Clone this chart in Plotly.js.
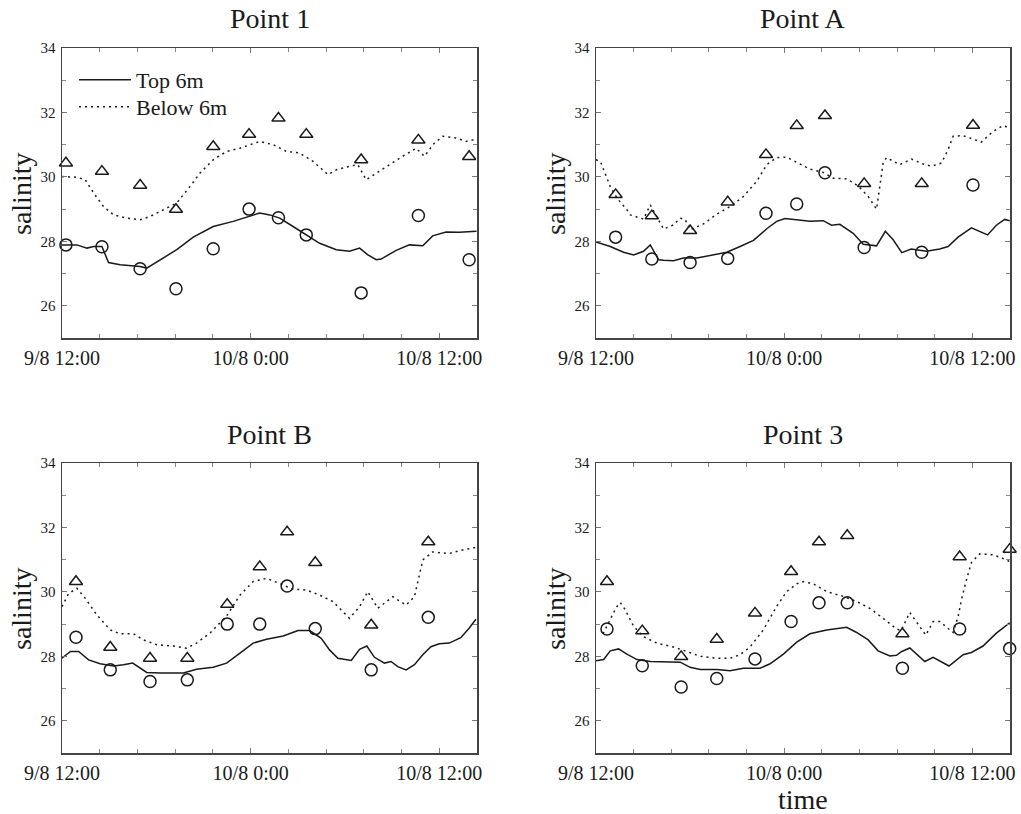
<!DOCTYPE html>
<html>
<head>
<meta charset="utf-8">
<script src="https://cdn.plot.ly/plotly-3.0.1.min.js"></script>
<style>html,body{margin:0;padding:0;background:#fff;}#chart{width:1021px;height:814px;}</style>
</head>
<body>
<div id="chart"></div>
<script>
// time axis: hours after 9/8 12:00
const tickHours = [0, 12, 24];
const tickLabels = ["9/8 12:00", "10/8 0:00", "10/8 12:00"];
const panelTitles = ["Point 1", "Point A", "Point B", "Point 3"];
const seriesNames = ["Top 6m", "Below 6m"];

// ---- Point 1 ----
const p1ObsT = [0.25, 2.54, 4.97, 7.25, 9.62, 11.9, 13.77, 15.54, 19.03, 22.67, 25.9];
const p1ObsTop = [27.89, 27.83, 27.15, 26.53, 27.77, 29.0, 28.73, 28.2, 26.4, 28.8, 27.43];
const p1ObsBelow = [30.43, 30.17, 29.74, 28.99, 30.94, 31.32, 31.82, 31.32, 30.53, 31.14, 30.63];
const p1TopT = [0, 0.95, 1.59, 2.01, 2.54, 2.96, 3.70, 4.97, 5.39, 6.24, 7.30, 8.35, 9.62, 10.89, 12.16, 12.58, 13.22, 13.85, 14.70, 15.54, 16.39, 17.45, 18.29, 18.93, 19.46, 19.99, 20.30, 21.26, 22.10, 22.95, 23.58, 24.43, 25.27, 26.37];
const p1Top = [27.89, 27.89, 27.79, 27.84, 27.84, 27.34, 27.27, 27.22, 27.17, 27.43, 27.74, 28.13, 28.46, 28.62, 28.82, 28.88, 28.82, 28.72, 28.46, 28.20, 27.94, 27.74, 27.69, 27.79, 27.58, 27.43, 27.45, 27.72, 27.89, 27.86, 28.17, 28.29, 28.28, 28.31];
const p1BelowT = [0, 0.95, 1.48, 2.01, 2.64, 3.28, 4.12, 4.97, 5.60, 6.45, 7.30, 8.14, 8.78, 9.62, 10.47, 11.32, 12.16, 12.58, 13.43, 14.28, 15.12, 15.97, 16.92, 17.45, 18.29, 18.82, 19.35, 19.99, 20.83, 21.68, 22.53, 23.05, 23.69, 24.22, 25.06, 25.70, 26.37];
const p1Below = [30.01, 29.99, 29.91, 29.5, 29.08, 28.82, 28.72, 28.67, 28.77, 28.98, 29.19, 29.7, 30.12, 30.53, 30.79, 30.89, 31.03, 31.1, 31.0, 30.79, 30.74, 30.48, 30.07, 30.22, 30.33, 30.38, 29.91, 30.12, 30.38, 30.64, 30.89, 30.64, 31.05, 31.26, 31.21, 31.1, 31.17];

// ---- Point A ----
const pAObsT = [1.25, 3.56, 6.0, 8.40, 10.84, 12.80, 14.60, 17.10, 20.77, 24.04];
const pAObsTop = [28.13, 27.45, 27.34, 27.47, 28.87, 29.16, 30.13, 27.81, 27.66, 29.75];
const pAObsBelow = [29.45, 28.79, 28.33, 29.22, 30.69, 31.59, 31.90, 29.79, 29.79, 31.6];
const pATopT = [0, 0.91, 1.76, 2.40, 3.03, 3.46, 3.99, 4.31, 4.94, 5.58, 6.43, 7.28, 8.34, 9.19, 10.04, 10.89, 11.52, 12.05, 13.01, 13.64, 14.49, 15.02, 15.55, 16.40, 17.04, 17.89, 18.45, 18.95, 19.50, 20.10, 21.07, 21.92, 22.45, 23.09, 23.94, 24.97, 25.53, 26.06, 26.38];
const pATop = [27.98, 27.84, 27.66, 27.58, 27.69, 27.89, 27.43, 27.41, 27.40, 27.48, 27.48, 27.55, 27.66, 27.84, 28.03, 28.39, 28.62, 28.71, 28.65, 28.62, 28.64, 28.50, 28.53, 28.25, 27.91, 27.86, 28.31, 28.05, 27.65, 27.76, 27.69, 27.76, 27.84, 28.13, 28.42, 28.20, 28.50, 28.68, 28.64];
const pABelowT = [0, 0.28, 0.91, 1.34, 1.97, 2.19, 3.03, 3.46, 4.31, 4.94, 5.37, 5.69, 6.0, 6.85, 7.70, 8.55, 9.40, 10.25, 10.89, 11.52, 12.16, 13.01, 13.64, 14.49, 15.13, 15.98, 16.72, 17.36, 17.89, 18.31, 18.52, 19.37, 20.12, 20.86, 21.39, 22.03, 22.45, 22.77, 23.41, 24.04, 24.57, 25.32, 25.95, 26.38];
const pABelow = [30.53, 30.48, 29.70, 29.34, 28.98, 28.82, 28.69, 29.13, 28.38, 28.51, 28.72, 28.67, 28.36, 28.54, 28.84, 29.08, 29.39, 29.86, 30.38, 30.60, 30.61, 30.40, 30.24, 30.14, 29.96, 29.94, 29.72, 29.39, 29.0, 30.43, 30.60, 30.38, 30.55, 30.40, 30.33, 30.43, 30.84, 31.26, 31.28, 31.17, 31.08, 31.41, 31.59, 31.52];

// ---- Point B ----
const pBObsT = [0.89, 3.07, 5.60, 7.97, 10.51, 12.58, 14.32, 16.11, 19.67, 23.30];
const pBObsTop = [28.59, 27.58, 27.22, 27.27, 29.0, 29.0, 30.18, 28.86, 27.58, 29.21];
const pBObsBelow = [30.32, 28.28, 27.94, 27.94, 29.61, 30.78, 31.86, 30.91, 28.97, 31.55];
const pBTopT = [0, 0.53, 1.06, 1.69, 2.43, 3.28, 3.91, 4.50, 5.39, 6.24, 7.72, 8.56, 9.62, 10.47, 11.32, 12.16, 13.01, 14.07, 15.02, 15.75, 16.49, 17.02, 17.55, 18.40, 18.93, 19.39, 19.88, 20.51, 20.93, 21.36, 21.89, 22.42, 22.95, 23.47, 24.0, 24.63, 25.37, 25.90, 26.33];
const pBTop = [27.94, 28.15, 28.15, 27.89, 27.77, 27.70, 27.74, 27.79, 27.50, 27.48, 27.48, 27.60, 27.66, 27.79, 28.10, 28.41, 28.53, 28.63, 28.80, 28.80, 28.56, 28.20, 27.94, 27.87, 28.22, 28.32, 27.97, 27.79, 27.84, 27.68, 27.58, 27.74, 28.05, 28.30, 28.39, 28.41, 28.58, 28.87, 29.15];
const pBBelowT = [0, 0.42, 0.95, 1.48, 2.22, 3.07, 3.70, 4.55, 5.18, 6.03, 7.08, 7.93, 8.56, 9.41, 10.47, 11.32, 12.16, 13.01, 13.85, 14.70, 15.54, 16.39, 17.23, 18.29, 18.93, 19.45, 20.09, 21.04, 21.89, 22.42, 22.95, 23.58, 24.63, 25.48, 26.33];
const pBBelow = [29.54, 29.95, 30.11, 29.80, 29.28, 28.82, 28.70, 28.70, 28.51, 28.36, 28.32, 28.25, 28.41, 28.72, 29.25, 29.90, 30.32, 30.42, 30.26, 30.08, 30.06, 29.90, 29.70, 29.18, 29.54, 30.01, 29.49, 29.85, 29.59, 29.85, 30.99, 31.24, 31.19, 31.30, 31.38];

// ---- Point 3 ----
const p3ObsT = [0.70, 2.95, 5.43, 7.70, 10.14, 12.44, 14.22, 16.02, 19.54, 23.19, 26.38];
const p3ObsTop = [28.85, 27.71, 27.05, 27.31, 27.92, 29.08, 29.66, 29.66, 27.63, 28.85, 28.24];
const p3ObsBelow = [30.32, 28.79, 27.99, 28.53, 29.34, 30.63, 31.55, 31.75, 28.70, 31.09, 31.32];
const p3TopT = [0, 0.49, 0.91, 1.44, 1.97, 2.61, 3.46, 4.52, 5.37, 6.0, 6.64, 7.70, 8.55, 9.40, 10.46, 11.10, 11.95, 12.80, 13.64, 14.71, 15.98, 16.62, 17.36, 17.99, 18.74, 19.16, 19.50, 20.01, 20.97, 21.50, 22.51, 23.41, 23.94, 24.68, 25.53, 26.38];
const p3Top = [27.86, 27.90, 28.17, 28.23, 28.07, 27.90, 27.84, 27.82, 27.82, 27.66, 27.59, 27.59, 27.55, 27.63, 27.63, 27.77, 28.07, 28.44, 28.70, 28.82, 28.90, 28.74, 28.51, 28.17, 28.01, 28.03, 28.15, 28.26, 27.84, 27.97, 27.70, 28.05, 28.12, 28.32, 28.72, 29.04];
const p3BelowT = [0.45, 0.91, 1.29, 1.55, 1.87, 2.40, 3.03, 3.88, 4.94, 5.79, 6.64, 7.70, 8.55, 9.19, 9.82, 10.67, 11.52, 12.16, 12.80, 13.22, 13.86, 14.71, 15.77, 16.62, 17.46, 18.31, 19.16, 19.45, 20.01, 21.03, 21.50, 21.92, 22.77, 23.09, 23.30, 23.62, 23.94, 24.47, 25.32, 25.95, 26.38];
const p3Below = [28.70, 29.13, 29.52, 29.67, 29.44, 28.93, 28.61, 28.41, 28.29, 28.15, 28.00, 27.94, 27.94, 28.05, 28.29, 28.82, 29.55, 30.01, 30.25, 30.32, 30.25, 30.01, 29.86, 29.70, 29.49, 29.18, 28.85, 28.80, 29.36, 28.66, 29.08, 29.08, 28.74, 29.23, 29.75, 30.37, 30.91, 31.18, 31.15, 31.04, 30.94];

const panels = [
  {topT: p1TopT, top: p1Top, belowT: p1BelowT, below: p1Below, obsT: p1ObsT, obsTop: p1ObsTop, obsBelow: p1ObsBelow},
  {topT: pATopT, top: pATop, belowT: pABelowT, below: pABelow, obsT: pAObsT, obsTop: pAObsTop, obsBelow: pAObsBelow},
  {topT: pBTopT, top: pBTop, belowT: pBBelowT, below: pBBelow, obsT: pBObsT, obsTop: pBObsTop, obsBelow: pBObsBelow},
  {topT: p3TopT, top: p3Top, belowT: p3BelowT, below: p3Below, obsT: p3ObsT, obsTop: p3ObsTop, obsBelow: p3ObsBelow}
];

const W = 1021, H = 814;
const fx = v => v / W;
const fy = v => 1 - v / H;
const FONT = '"Liberation Serif", "Times New Roman", serif';
const INK = '#1a1a1a';

// plot-area boxes in pixels [left, right, top, bottom]
const boxes = [
  [62, 477, 48, 338],
  [596, 1010, 48, 338],
  [62, 477, 463, 753],
  [596, 1010, 463, 753]
];

const traces = [];
panels.forEach((p, i) => {
  const sfx = i === 0 ? '' : String(i + 1);
  const xa = 'x' + sfx, ya = 'y' + sfx;
  traces.push({
    type: 'scatter', mode: 'lines', x: p.topT, y: p.top, xaxis: xa, yaxis: ya,
    name: seriesNames[0], legendgroup: 'top', showlegend: i === 0, legend: 'legend',
    line: {color: INK, width: 1.5}, hoverinfo: 'skip'
  });
  traces.push({
    type: 'scatter', mode: 'lines', x: p.belowT, y: p.below, xaxis: xa, yaxis: ya,
    name: seriesNames[1], legendgroup: 'below', showlegend: i === 0, legend: 'legend2',
    line: {color: INK, width: 1.5, dash: '2px,4px'}, hoverinfo: 'skip'
  });
  traces.push({
    type: 'scatter', mode: 'markers', x: p.obsT, y: p.obsTop, xaxis: xa, yaxis: ya,
    name: seriesNames[0] + ' obs', showlegend: false, cliponaxis: false,
    marker: {symbol: 'circle-open', size: 12, color: INK, line: {width: 1.5, color: INK}}
  });
  traces.push({
    type: 'scatter', mode: 'markers', x: p.obsT, y: p.obsBelow, xaxis: xa, yaxis: ya,
    name: seriesNames[1] + ' obs', showlegend: false, cliponaxis: false,
    marker: {symbol: 'triangle-up-open', size: 11.5, color: INK, line: {width: 1.5, color: INK}}
  });
});

const legendBase = {
  xanchor: 'left', yanchor: 'middle',
  bgcolor: 'rgba(0,0,0,0)', borderwidth: 0,
  font: {family: FONT, size: 22, color: INK},
  itemwidth: 52
};

const layout = {
  width: W, height: H,
  margin: {l: 0, r: 0, t: 0, b: 0},
  paper_bgcolor: '#fff', plot_bgcolor: '#fff',
  font: {family: FONT, color: INK},
  showlegend: true,
  legend: Object.assign({x: fx(74), y: fy(80)}, legendBase),
  legend2: Object.assign({x: fx(74), y: fy(107)}, legendBase),
  annotations: [],
  hovermode: false
};

boxes.forEach((b, i) => {
  const sfx = i === 0 ? '' : String(i + 1);
  layout['xaxis' + sfx] = {
    domain: [fx(b[0]), fx(b[1])],
    anchor: 'y' + sfx,
    range: [0, 26.4],
    tickmode: 'array', tickvals: tickHours, ticktext: tickLabels,
    ticks: 'inside', ticklen: 5, tickwidth: 1, tickcolor: '#777',
    minor: {tickmode: 'linear', tick0: 0, dtick: 2.4, ticks: 'inside', ticklen: 4, tickcolor: '#888', showgrid: false},
    showline: true, linecolor: '#444', linewidth: 1.5, mirror: 'ticks',
    showgrid: false, zeroline: false,
    tickfont: {family: FONT, size: 20, color: INK},
    ticklabelstandoff: 1,
    fixedrange: true
  };
  layout['yaxis' + sfx] = {
    domain: [fy(b[3]), fy(b[2])],
    anchor: 'x' + sfx,
    range: [25, 34],
    tickmode: 'linear', tick0: 0, dtick: 2,
    ticks: 'inside', ticklen: 5, tickwidth: 1, tickcolor: '#777',
    minor: {tickmode: 'linear', tick0: 0, dtick: 1, ticks: 'inside', ticklen: 4, tickcolor: '#888', showgrid: false},
    showline: true, linecolor: '#444', linewidth: 1.5, mirror: 'ticks',
    showgrid: false, zeroline: false,
    tickfont: {family: FONT, size: 15, color: INK},
    ticklabelstandoff: 2,
    fixedrange: true
  };
  // panel title
  layout.annotations.push({
    text: panelTitles[i], xref: 'paper', yref: 'paper',
    x: fx((b[0] + b[1]) / 2), y: fy(b[2] - 29), xanchor: 'center', yanchor: 'middle',
    showarrow: false, font: {family: FONT, size: 28, color: INK}
  });
  // y-axis title
  layout.annotations.push({
    text: 'salinity', xref: 'paper', yref: 'paper', textangle: -90,
    x: fx(b[0] - 41), y: fy((b[2] + b[3]) / 2 + 1), xanchor: 'center', yanchor: 'middle',
    showarrow: false, font: {family: FONT, size: 28, color: INK}
  });
});

layout.annotations.push({
  text: 'time', xref: 'paper', yref: 'paper',
  x: fx(803), y: fy(799), xanchor: 'center', yanchor: 'middle',
  showarrow: false, font: {family: FONT, size: 28, color: INK}
});

Plotly.newPlot('chart', traces, layout, {displayModeBar: false, staticPlot: true});
</script>
</body>
</html>
